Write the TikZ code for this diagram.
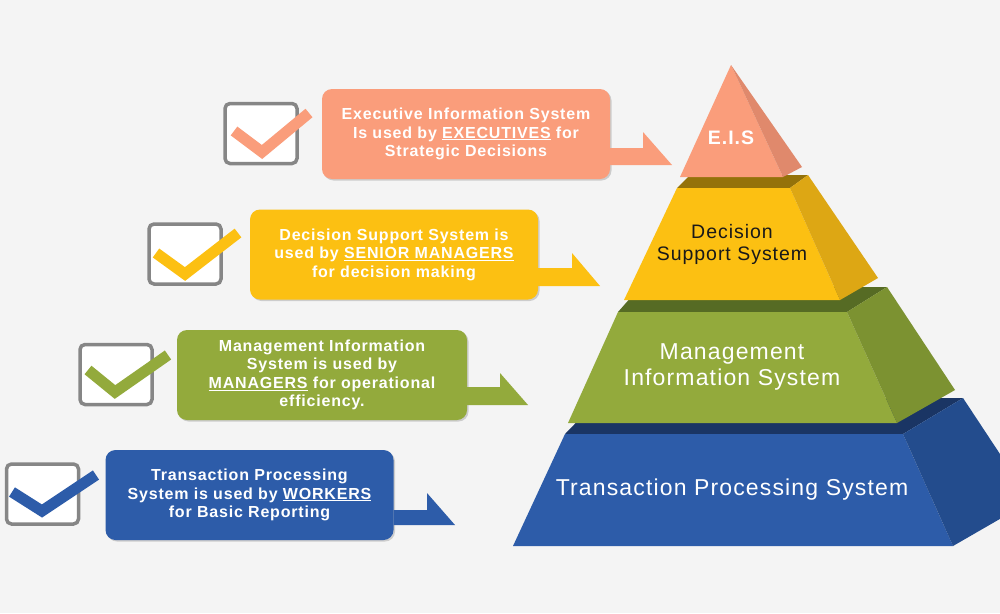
\documentclass[tikz,border=0pt]{standalone}
\usepackage{fontspec}
\setmainfont{Liberation Sans}
\newfontfamily\wideArial[LetterSpace=5]{Liberation Sans}
\usetikzlibrary{shadows}

\definecolor{colEIS}{HTML}{FA9D7B}
\definecolor{colEISside}{HTML}{E0896C}
\definecolor{colDSS}{HTML}{FCC012}
\definecolor{colDSStop}{HTML}{94720A}
\definecolor{colDSSside}{HTML}{DDA714}
\definecolor{colMIS}{HTML}{93AA3C}
\definecolor{colMIStop}{HTML}{566B24}
\definecolor{colMISside}{HTML}{7C9231}
\definecolor{colTPS}{HTML}{2D5CA9}
\definecolor{colTPStop}{HTML}{1A3564}
\definecolor{colTPSside}{HTML}{234C8D}
\definecolor{bgGray}{HTML}{F4F4F4}

\tikzset{
  infobox/.style={rounded corners=10pt, minimum width=288pt, minimum height=90pt,
    inner sep=0pt, align=center, text=white,
    font=\wideArial\bfseries\fontsize{16}{18.5}\selectfont,
    drop shadow={shadow xshift=1.5pt, shadow yshift=-1.5pt, fill=black!35, opacity=0.5}},
  tickbox/.style={draw=gray!95, fill=white, line width=3.5pt, rounded corners=5pt,
    minimum width=72pt, minimum height=60pt},
  tick/.style={line width=11pt},
}

\begin{document}
\begin{tikzpicture}[x=1pt, y=-1pt]
    \clip (0,0) rectangle (1000,613);
    \fill[bgGray] (0,0) rectangle (1000,613);

    % pyramid, bottom layer first
    \fill[colTPStop] (565,434) -- (903,434) -- (963,398) -- (600,398) -- cycle;
    \fill[colTPS] (565,434) -- (903,434) -- (953,546) -- (513,546) -- cycle;
    \fill[colTPSside] (903,434) -- (963,398) -- (1031,501) -- (953,546) -- cycle;

    \fill[colMIStop] (618,312) -- (847,312) -- (887,287) -- (640,287) -- cycle;
    \fill[colMIS] (618,312) -- (847,312) -- (897,423) -- (568,423) -- cycle;
    \fill[colMISside] (847,312) -- (887,287) -- (955,390) -- (897,423) -- cycle;

    \fill[colDSStop] (677,188) -- (790,188) -- (808,175) -- (690,175) -- cycle;
    \fill[colDSS] (677,188) -- (790,188) -- (840,300) -- (624,300) -- cycle;
    \fill[colDSSside] (790,188) -- (808,175) -- (878,278) -- (840,300) -- cycle;

    \fill[colEIS] (731,65) -- (783,177) -- (680,177) -- cycle;
    \fill[colEISside] (731,65) -- (802,167) -- (783,177) -- cycle;

    \node[text=white, font=\wideArial\bfseries\fontsize{19.5}{20}\selectfont] (eisLbl) at (731,138) {E.I.S};
    \node[align=center, text=black!90, font=\wideArial\fontsize{19.5}{22}\selectfont] (dssLbl) at (732,244) {Decision\\Support System};
    \node[align=center, text=white, font=\wideArial\fontsize{23}{26}\selectfont] (misLbl) at (732,367) {Management\\Information System};
    \node[text=white, font=\wideArial\fontsize{23}{26}\selectfont] (tpsLbl) at (732,490) {Transaction Processing System};

    % callouts
    \node[infobox, fill=colEIS] (eisBox) at (466,134)
        {Executive Information System\\Is used by \underline{EXECUTIVES} for\\Strategic Decisions};
    \node[infobox, fill=colDSS] (dssBox) at (394,254.5)
        {Decision Support System is\\used by \underline{SENIOR MANAGERS}\\for decision making};
    \node[infobox, fill=colMIS, minimum width=290pt] (misBox) at (322,375)
        {Management Information\\System is used by\\\underline{MANAGERS} for operational\\efficiency.};
    \node[infobox, fill=colTPS] (tpsBox) at (249.5,495)
        {Transaction Processing\\System is used by \underline{WORKERS}\\for Basic Reporting};

    \foreach \b/\c/\st/\hx/\ht/\tx/\by in {eisBox/colEIS/148/643/132/672/165,
        dssBox/colDSS/268/572/253/600/286, misBox/colMIS/387/500/373/528/405,
        tpsBox/colTPS/510/427/493/455/525} {
        \fill[\c] (\b.east |- 0,\st) -- (\hx,\st) -- (\hx,\ht) -- (\tx,\by) -- (\b.east |- 0,\by) -- cycle;
    }

    % check boxes
    \foreach \n/\c/\cx/\cy/\ax/\ay/\vx/\vy/\ex/\ey in {A/colEIS/261/133.5/234/131/262/152/309/113,
        B/colDSS/185/254/156/253/185/274/238/233, C/colMIS/116/374.5/88/370/115/392/168/355,
        D/colTPS/42.5/494/12/492/42/511/96/475} {
        \node[tickbox] (chk\n) at (\cx,\cy) {};
        \draw[tick, \c] (\ax,\ay) -- (\vx,\vy) -- (\ex,\ey);
    }
\end{tikzpicture}
\end{document}
